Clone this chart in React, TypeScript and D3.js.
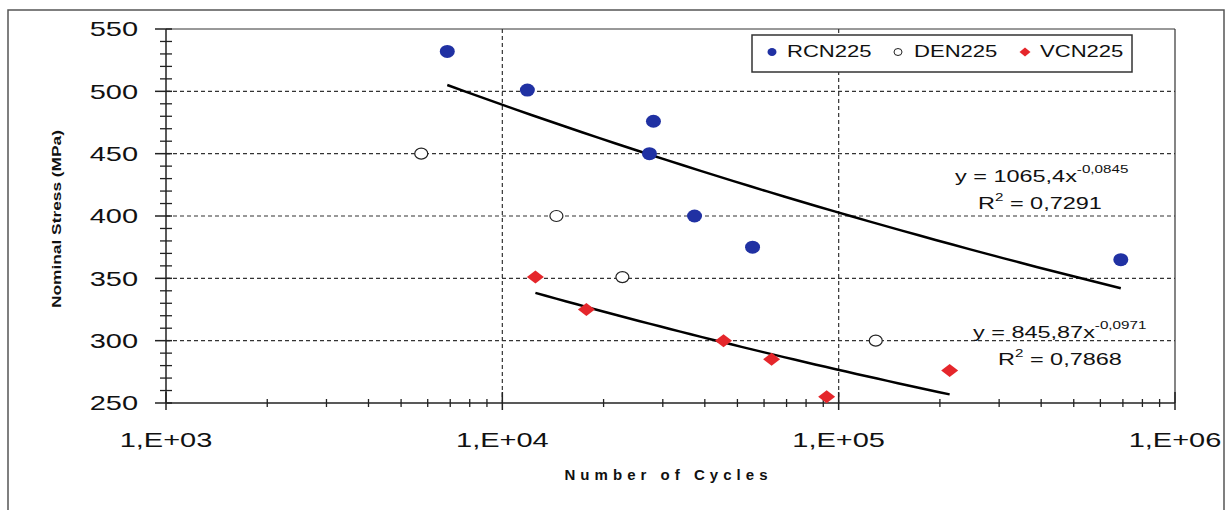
import React from 'react';
import * as d3 from 'd3';

const WIDTH = 1232;
const HEIGHT = 510;

const MARGIN = { top: 29, right: 57, bottom: 107, left: 166 };

// data
const rcnCycles = [6860, 11870, 28140, 27380, 37280, 55460, 690000];
const rcnStress = [532, 501, 476, 450, 400, 375, 365];

const denCycles = [5740, 14480, 22750, 128900];
const denStress = [450, 400, 351, 300];

const vcnCycles = [12540, 17780, 45460, 63180, 92100, 213800];
const vcnStress = [351, 325, 300, 285, 255, 276];

const yTicks = [250, 300, 350, 400, 450, 500, 550];
const xTicks = [1e3, 1e4, 1e5, 1e6];
const xTickLabels = ['1,E+03', '1,E+04', '1,E+05', '1,E+06'];

// power trendlines y = a * x^b
const rcnTrend = { a: 1065.4, b: -0.0845, eq: '1065,4x', exp: '-0,0845', r2: '0,7291' };
const vcnTrend = { a: 845.87, b: -0.0971, eq: '845,87x', exp: '-0,0971', r2: '0,7868' };

const BLUE = '#2031a3';
const RED = '#e5262b';
const FONT = 'Liberation Sans, Arial, sans-serif';
const SX = 1.38; // picture is stretched sideways

const Txt = ({ x, y, size, anchor = 'start', children, bold = false }: any) => (
  <text
    transform={`translate(${x},${y}) scale(${SX},1)`}
    fontSize={size}
    fontFamily={FONT}
    fontWeight={bold ? 'bold' : 'normal'}
    textAnchor={anchor}
    dominantBaseline="central"
    fill="#111"
  >
    {children}
  </text>
);

// "y = ax^b" and "R² = r" two-line label
const EqLabel = ({ x, y, t, rx }: any) => (
  <g>
    <text transform={`translate(${x},${y}) scale(${SX},1)`} fontSize={17} fontFamily={FONT} fill="#111">
      y = {t.eq}
      <tspan fontSize={11} dy={-9}>{t.exp}</tspan>
    </text>
    <text transform={`translate(${rx},${y + 27}) scale(${SX},1)`} fontSize={17} fontFamily={FONT} fill="#111">
      R
      <tspan fontSize={11} dy={-8}>2</tspan>
      <tspan dy={8}> = {t.r2}</tspan>
    </text>
  </g>
);

export default function App() {
  const x = d3.scaleLog()
    .domain([1e3, 1e6])
    .range([MARGIN.left, WIDTH - MARGIN.right]);

  const y = d3.scaleLinear()
    .domain([250, 550])
    .range([HEIGHT - MARGIN.bottom, MARGIN.top]);

  const x0 = MARGIN.left;
  const x1 = WIDTH - MARGIN.right;
  const y0 = HEIGHT - MARGIN.bottom;
  const y1 = MARGIN.top;

  const minorY = d3.range(250, 551, 10).filter(v => v % 50 !== 0);
  const minorX: number[] = [];
  [1e3, 1e4, 1e5].forEach(d => {
    for (let k = 2; k <= 9; k++) minorX.push(d * k);
  });

  const trendPath = (t: any, cycles: number[]) => {
    const [lo, hi] = d3.extent(cycles) as [number, number];
    const pts = d3.range(0, 41).map(i => Math.pow(10, Math.log10(lo) + (Math.log10(hi) - Math.log10(lo)) * i / 40));
    return d3.line<number>()
      .x(c => x(c))
      .y(c => y(t.a * Math.pow(c, t.b)))(pts) || '';
  };

  const diamond = (cx: number, cy: number, w: number, h: number) =>
    `M${cx - w / 2},${cy} L${cx},${cy - h / 2} L${cx + w / 2},${cy} L${cx},${cy + h / 2} Z`;

  return (
    <svg width={WIDTH} height={HEIGHT} style={{ position: 'absolute', left: 0, top: 0, background: '#fff' }}>
      {/* outer frame */}
      <rect x={8} y={10} width={1216} height={HEIGHT + 20} fill="none" stroke="#555" strokeWidth={1.5} />

      {/* grid */}
      {yTicks.filter(v => v !== 250 && v !== 550).map(v => (
        <line key={'gy' + v} x1={x0} x2={x1} y1={y(v)} y2={y(v)} stroke="#333" strokeWidth={1.2} strokeDasharray="4,3" />
      ))}
      {[1e4, 1e5].map(v => (
        <line key={'gx' + v} x1={x(v)} x2={x(v)} y1={y1} y2={y0} stroke="#333" strokeWidth={1.2} strokeDasharray="4,3" />
      ))}

      {/* plot box top and right */}
      <line x1={x0} x2={x1} y1={y1} y2={y1} stroke="#333" strokeWidth={1} />
      <line x1={x1} x2={x1} y1={y1} y2={y0} stroke="#333" strokeWidth={1.2} />

      {/* axes */}
      <line x1={x0} x2={x0} y1={y1} y2={y0} stroke="#222" strokeWidth={1.5} />
      <line x1={x0} x2={x1} y1={y0} y2={y0} stroke="#222" strokeWidth={1.5} />
      {yTicks.map(v => (
        <line key={'ty' + v} x1={x0 - 11} x2={x0 + 6} y1={y(v)} y2={y(v)} stroke="#222" strokeWidth={1.5} />
      ))}
      {minorY.map(v => (
        <line key={'my' + v} x1={x0 - 6} x2={x0 + 6} y1={y(v)} y2={y(v)} stroke="#222" strokeWidth={1.3} />
      ))}
      {xTicks.map(v => (
        <line key={'tx' + v} x1={x(v)} x2={x(v)} y1={y0 - 11} y2={y0 + 7} stroke="#222" strokeWidth={1.5} />
      ))}
      {minorX.map(v => (
        <line key={'mx' + v} x1={x(v)} x2={x(v)} y1={y0 - 4} y2={y0 + 4} stroke="#222" strokeWidth={1.3} />
      ))}

      {/* tick labels */}
      {yTicks.map(v => (
        <Txt key={'ly' + v} x={138} y={y(v)} size={21} anchor="end">{v}</Txt>
      ))}
      {xTicks.map((v, i) => (
        <Txt key={'lx' + v} x={x(v)} y={440} size={21} anchor="middle">{xTickLabels[i]}</Txt>
      ))}

      {/* axis titles */}
      <text x={666} y={474} fontSize={15} fontWeight="bold" fontFamily={FONT} textAnchor="middle"
        dominantBaseline="central" textLength={203} lengthAdjust="spacing" fill="#111">Number of Cycles</text>
      <text transform={`translate(57,219) rotate(-90)`} fontSize={12} fontWeight="bold" fontFamily={FONT}
        textAnchor="middle" dominantBaseline="central" textLength={178} lengthAdjust="spacingAndGlyphs" fill="#111">Nominal Stress (MPa)</text>

      {/* trendlines */}
      <path d={trendPath(rcnTrend, rcnCycles)} fill="none" stroke="#000" strokeWidth={2.5} />
      <path d={trendPath(vcnTrend, vcnCycles)} fill="none" stroke="#000" strokeWidth={2.5} />

      {/* points */}
      {rcnCycles.map((c, i) => (
        <ellipse key={'r' + i} cx={x(c)} cy={y(rcnStress[i])} rx={7.5} ry={6.5} fill={BLUE} />
      ))}
      {denCycles.map((c, i) => (
        <ellipse key={'d' + i} cx={x(c)} cy={y(denStress[i])} rx={6.5} ry={5.5} fill="#fff" stroke="#222" strokeWidth={1.2} />
      ))}
      {vcnCycles.map((c, i) => (
        <path key={'v' + i} d={diamond(x(c), y(vcnStress[i]), 17, 13)} fill={RED} />
      ))}

      {/* equations */}
      <EqLabel x={955} y={182} rx={978} t={rcnTrend} />
      <EqLabel x={973} y={338} rx={998} t={vcnTrend} />

      {/* legend */}
      <rect x={752} y={35} width={380} height={37} fill="#fff" stroke="#333" strokeWidth={1.5} />
      <ellipse cx={772} cy={52} rx={4.5} ry={4} fill={BLUE} />
      <Txt x={787} y={52} size={16}>RCN225</Txt>
      <ellipse cx={898} cy={52} rx={4} ry={3.5} fill="#fff" stroke="#222" strokeWidth={1} />
      <Txt x={914} y={52} size={16}>DEN225</Txt>
      <path d={diamond(1025, 52, 11, 9)} fill={RED} />
      <Txt x={1040} y={52} size={16}>VCN225</Txt>
    </svg>
  );
}
